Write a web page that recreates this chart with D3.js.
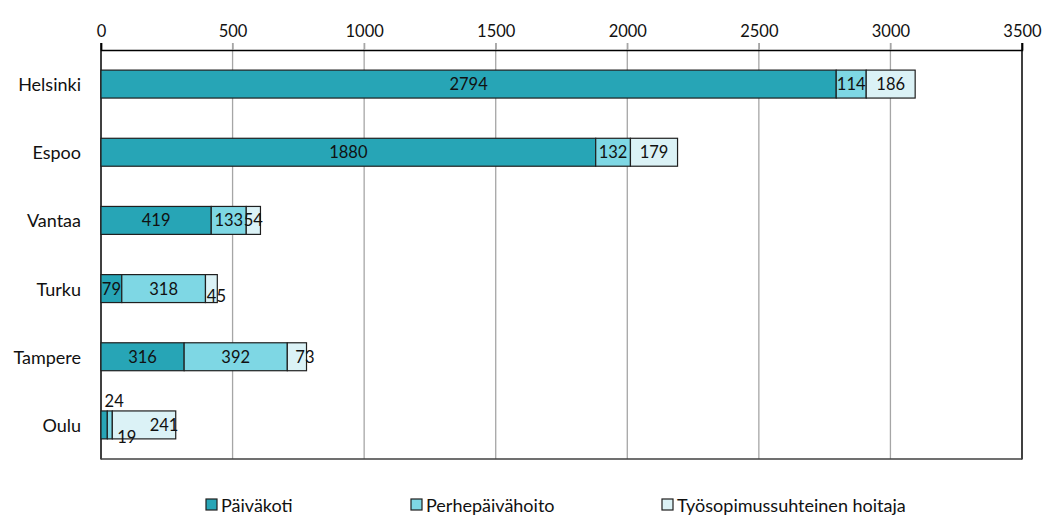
<!DOCTYPE html>
<html>
<head>
<meta charset="utf-8">
<script src="https://cdn.jsdelivr.net/npm/d3@7"></script>
<style>
  html, body { margin: 0; padding: 0; background: #fff; }
  svg text { font-family: Lato, "Open Sans", sans-serif; fill: #111; }
</style>
</head>
<body>
<svg id="chart" width="1046" height="516"></svg>
<script>
const categories = ["Helsinki", "Espoo", "Vantaa", "Turku", "Tampere", "Oulu"];
const seriesNames = ["Päiväkoti", "Perhepäivähoito", "Työsopimussuhteinen hoitaja"];
const paivakoti = [2794, 1880, 419, 79, 316, 24];
const perhepaivahoito = [114, 132, 133, 318, 392, 19];
const tyosopimus = [186, 179, 54, 45, 73, 241];
const tickValues = [0, 500, 1000, 1500, 2000, 2500, 3000, 3500];

const colors = ["#27a5b6", "#7ed7e4", "#dbf2f6"];
const svg = d3.select("#chart");
const numSize = 16.5;
const textSize = 18;

const x = d3.scaleLinear().domain([0, 3500]).range([101, 1022]);
const y = d3.scaleBand().domain(categories).range([50, 459]).paddingInner(0.59).paddingOuter(0.295);

// gridlines
svg.append("g").selectAll("line").data(tickValues.slice(1, -1)).join("line")
  .attr("x1", d => x(d)).attr("x2", d => x(d))
  .attr("y1", 43).attr("y2", 459)
  .attr("stroke", "#a6a6a6").attr("stroke-width", 1.3);

// top axis
const axis = d3.axisTop(x).tickValues(tickValues).tickSize(7).tickPadding(8).tickFormat(d3.format("d"));
const gAx = svg.append("g").attr("transform", "translate(0,50)").call(axis);
gAx.select(".domain").attr("stroke", "#000").attr("stroke-width", 1.5);
gAx.selectAll(".tick line").attr("stroke", (d) => (d === 0 || d === 3500) ? "#000" : "#a6a6a6").attr("stroke-width", 1.3);
gAx.selectAll(".tick text").attr("font-size", numSize).attr("font-family", "Lato, sans-serif").attr("fill", "#111").attr("dy", "0.1em");

// left axis, right border, bottom border
svg.append("line").attr("x1", x(0)).attr("x2", x(0)).attr("y1", 43).attr("y2", 459.5).attr("stroke", "#000").attr("stroke-width", 1.5);
svg.append("line").attr("x1", x(3500)).attr("x2", x(3500)).attr("y1", 43).attr("y2", 459.5).attr("stroke", "#000").attr("stroke-width", 1.5);
svg.append("line").attr("x1", x(0)).attr("x2", x(3500)).attr("y1", 459).attr("y2", 459).attr("stroke", "#404040").attr("stroke-width", 1.5);

// category labels
svg.append("g").selectAll("text").data(categories).join("text")
  .attr("x", 81).attr("y", d => y(d) + y.bandwidth() / 2)
  .attr("text-anchor", "end").attr("dominant-baseline", "central")
  .attr("font-size", textSize).text(d => d);

// stacked data
const table = categories.map((c, i) => ({ cat: c, s0: paivakoti[i], s1: perhepaivahoito[i], s2: tyosopimus[i] }));
const stack = d3.stack().keys(["s0", "s1", "s2"])(table);

// label nudges for overlapping labels (like Excel's auto placement)
const nudge = {
  "Turku-2": [5, 7],
  "Tampere-2": [8, 0],
  "Oulu-0": [10, -24],
  "Oulu-1": [17, 12],
  "Oulu-2": [20, 0]
};

stack.forEach((layer, si) => {
  const g = svg.append("g");
  g.selectAll("rect").data(layer).join("rect")
    .attr("x", d => x(d[0])).attr("width", d => x(d[1]) - x(d[0]))
    .attr("y", d => y(d.data.cat)).attr("height", y.bandwidth())
    .attr("fill", colors[si]).attr("stroke", "#1f1f1f").attr("stroke-width", 1.2);
});
stack.forEach((layer, si) => {
  const g = svg.append("g");
  g.selectAll("text").data(layer).join("text")
    .attr("x", d => (x(d[0]) + x(d[1])) / 2 + ((nudge[d.data.cat + "-" + si] || [0, 0])[0]))
    .attr("y", d => y(d.data.cat) + y.bandwidth() / 2 + ((nudge[d.data.cat + "-" + si] || [0, 0])[1]))
    .attr("text-anchor", "middle").attr("dominant-baseline", "central")
    .attr("font-size", numSize)
    .text(d => d[1] - d[0]);
});

// legend
const legendX = [206, 411, 662];
const lg = svg.append("g");
seriesNames.forEach((n, i) => {
  lg.append("rect").attr("x", legendX[i]).attr("y", 499).attr("width", 11).attr("height", 11)
    .attr("fill", colors[i]).attr("stroke", "#1f1f1f").attr("stroke-width", 1.2);
  lg.append("text").attr("x", legendX[i] + 15).attr("y", 505).attr("dominant-baseline", "central")
    .attr("font-size", textSize).text(n);
});
</script>
</body>
</html>
